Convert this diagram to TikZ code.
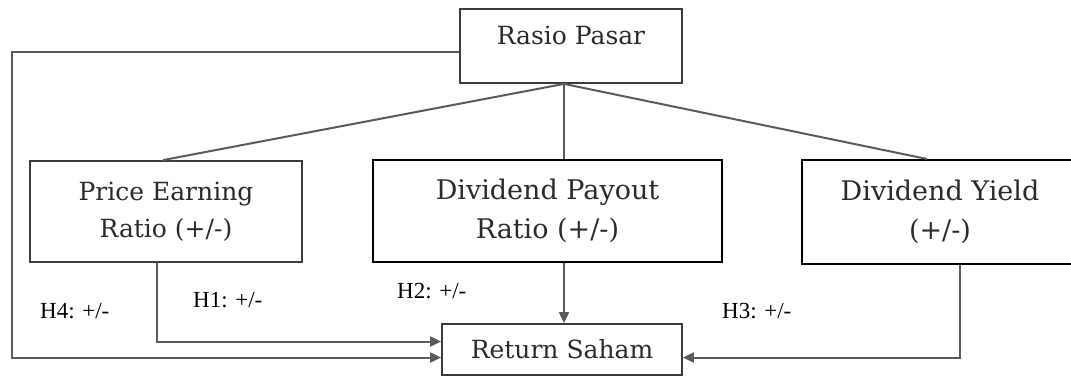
\documentclass[tikz,border=0pt]{standalone}
\usepackage{fontspec}
\setmainfont{Liberation Serif}
\newfontfamily\boxfont{DejaVu Serif}
\usetikzlibrary{arrows.meta,calc}
\definecolor{linegray}{HTML}{5A5A5A}
\definecolor{boxgray}{HTML}{3C3C3C}
\definecolor{txtgray}{HTML}{2A2A2A}
\tikzset{
  boxa/.style={draw=boxgray, line width=1.8pt, rectangle, inner sep=0pt, align=center,
    text=txtgray, font=\boxfont\fontsize{25}{37}\selectfont},
  boxb/.style={boxa, draw=black, line width=2pt, font=\boxfont\fontsize{27}{39}\selectfont},
  conn/.style={draw=linegray, line width=2pt},
  arr/.style={conn, -{Triangle[length=11pt,width=10pt]}, shorten >=0pt},
  hlab/.style={anchor=base west, inner sep=0pt, font=\fontsize{23}{26}\selectfont}
}
\begin{document}
\begin{tikzpicture}[x=1pt,y=-1pt]
\useasboundingbox (0,0) rectangle (1071,377);
\clip (0,0) rectangle (1071,377);
% boxes
\node[boxa, minimum width=222pt, minimum height=74pt, text height=18pt, text depth=20pt] (rasio) at (571,46) {Rasio Pasar};
\node[boxa, minimum width=272pt, minimum height=101pt] (pe) at (166,211.5) {Price Earning\\Ratio (+/-)};
\node[boxb, minimum width=349pt, minimum height=102pt] (dp) at (547.5,211) {Dividend Payout\\Ratio (+/-)};
\node[boxb, minimum width=276pt, minimum height=104pt] (dy) at (940,212) {Dividend Yield\\(+/-)};
\node[boxa, minimum width=240pt, minimum height=51pt] (ret) at (562,349.5) {Return Saham};
% helper coordinates
\coordinate (rs) at ([xshift=-7pt]rasio.south);
\coordinate (lc) at (12,52);
% tree lines
\draw[conn] (rs) -- ([xshift=-3pt]pe.north);
\draw[conn] (rs) -- (rs |- dp.north);
\draw[conn] (rs) -- ([xshift=-13pt]dy.north);
% arrows into Return Saham
\draw[arr] (dp.south -| rs) -- (ret.north -| rs);
\draw[arr] ([xshift=-9pt]pe.south) |- ([yshift=8pt]ret.west);
\draw[arr] ([yshift=-6pt]rasio.west) -- (lc) |- ([yshift=-8pt]ret.west);
\draw[arr] ([xshift=20pt]dy.south) |- ([yshift=-8pt]ret.east);
% labels
\node[hlab] (h4) at (40,318) {H4: +/-};
\node[hlab] (h1) at (193,307) {H1: +/-};
\node[hlab] (h2) at (397,298) {H2: +/-};
\node[hlab] (h3) at (722,318) {H3: +/-};
\end{tikzpicture}
\end{document}
